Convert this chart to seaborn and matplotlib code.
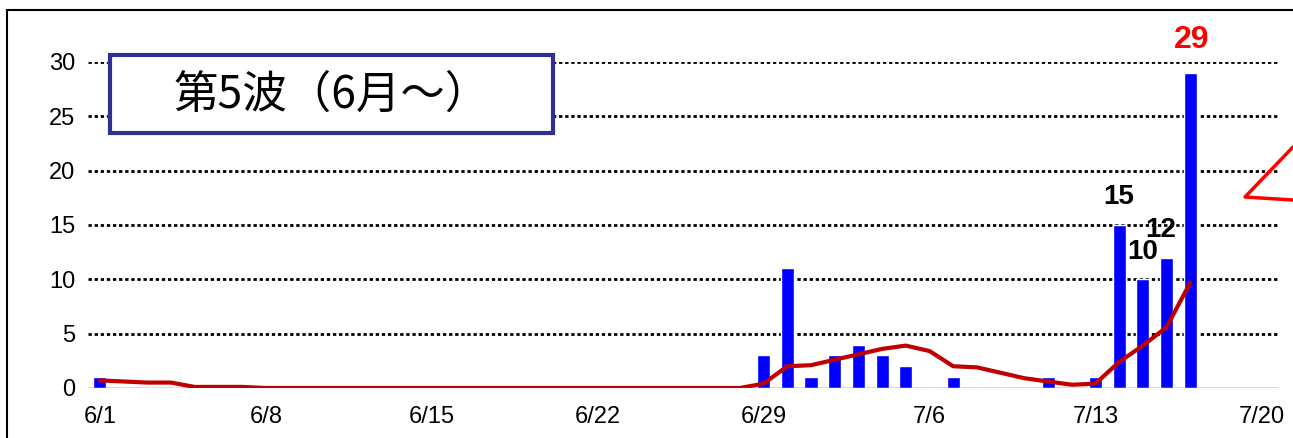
import matplotlib
matplotlib.use("Agg")
import matplotlib.pyplot as plt
from matplotlib.lines import Line2D
from matplotlib.patches import Rectangle
import seaborn as sns
import pandas as pd

# daily new cases, 6/1 .. 7/17
day = list(range(47))
cases = [1, 0, 0, 0, 0, 0, 0,
         0, 0, 0, 0, 0, 0, 0,
         0, 0, 0, 0, 0, 0, 0,
         0, 0, 0, 0, 0, 0, 0,
         3, 11, 1, 3, 4, 3, 2,
         0, 1, 0, 0, 0, 1, 0,
         1, 15, 10, 12, 29]
# 7-day average (red line)
avg7 = [0.7, 0.6, 0.5, 0.5, 0.1, 0.1, 0.1,
        0, 0, 0, 0, 0, 0, 0,
        0, 0, 0, 0, 0, 0, 0,
        0, 0, 0, 0, 0, 0, 0,
        0.4, 2.0, 2.1, 2.6, 3.1, 3.6, 3.9,
        3.4, 2.0, 1.9, 1.4, 0.9, 0.6, 0.3,
        0.4, 2.4, 3.9, 5.6, 9.7]
tick_days = [0, 7, 14, 21, 28, 35, 42, 49]
tick_labels = ["6/1", "6/8", "6/15", "6/22", "6/29", "7/6", "7/13", "7/20"]
labels = {43: "15", 44: "10", 45: "12"}
df = pd.DataFrame({"day": day, "cases": cases, "avg": avg7})

sns.set_style("white")
plt.rcParams['font.family'] = ['Liberation Sans', 'DejaVu Sans']
plt.rcParams['text.color'] = 'black'
plt.rcParams['xtick.color'] = 'black'
plt.rcParams['ytick.color'] = 'black'

fig = plt.figure(figsize=(12.93, 4.38), dpi=100)
ax = fig.add_axes([88/1293, 1-388/438, (1278-88)/1293, (388-62)/438])

sns.barplot(data=df, x="day", y="cases", native_scale=True, color="#0000FF",
            saturation=1, width=0.55, ax=ax, zorder=3)
sns.lineplot(data=df, x="day", y="avg", color="#C00000", lw=3, ax=ax, zorder=4)

ax.set_xlim(-0.5, 49.7)
ax.set_ylim(0, 30)
ax.set_yticks([0, 5, 10, 15, 20, 25, 30])
ax.set_xticks(tick_days)
ax.set_xticklabels(tick_labels)
ax.tick_params(axis="x", length=0, pad=13, labelsize=17)
ax.tick_params(axis="y", length=0, pad=9, labelsize=17)
ax.set_xlabel("")
ax.set_ylabel("")
for s in ax.spines.values():
    s.set_visible(False)
for v in [5, 10, 15, 20, 25, 30]:
    ax.axhline(v, color="black", lw=2, linestyle=(0, (1.2, 1.0)), zorder=1)
ax.axhline(0, color="#D0D0D0", lw=1.2, zorder=2)

for d, t in labels.items():
    dx = -4 if t == "12" else 0
    ax.annotate(t, (d, cases[d]), xytext=(dx, 20), textcoords="offset points",
                ha="center", va="center", fontsize=20, fontweight="bold", color="black")
ax.annotate("29", (46, cases[46]), xytext=(1, 24), textcoords="offset points",
            ha="center", va="center", fontsize=23, fontweight="bold", color="#FF0000",
            annotation_clip=False)

# title box
box = Rectangle((110/1293, 1-133/438), (553-110)/1293, (133-55)/438, transform=fig.transFigure,
                facecolor="white", edgecolor="#2E3192", lw=3, zorder=10)
fig.add_artist(box)
fig.text((110+553)/2/1293, 1-95/438, "第5波（6月～）", ha="center", va="center",
         fontsize=32, color="black", family=["Noto Sans CJK JP", "DejaVu Sans"], zorder=11)

# frame and callout fragments
fig.add_artist(Line2D([7/1293, 7/1293], [0, 1-10/438], color="black", lw=1.5))
fig.add_artist(Line2D([7/1293, 1], [1-10/438, 1-10/438], color="black", lw=1.5))
fig.add_artist(Line2D([1293/1293, 1245/1293, 1293/1293], [1-147/438, 1-197/438, 1-200/438],
                      color="#FF0000", lw=2.5))

fig.savefig("out.png", dpi=100)
